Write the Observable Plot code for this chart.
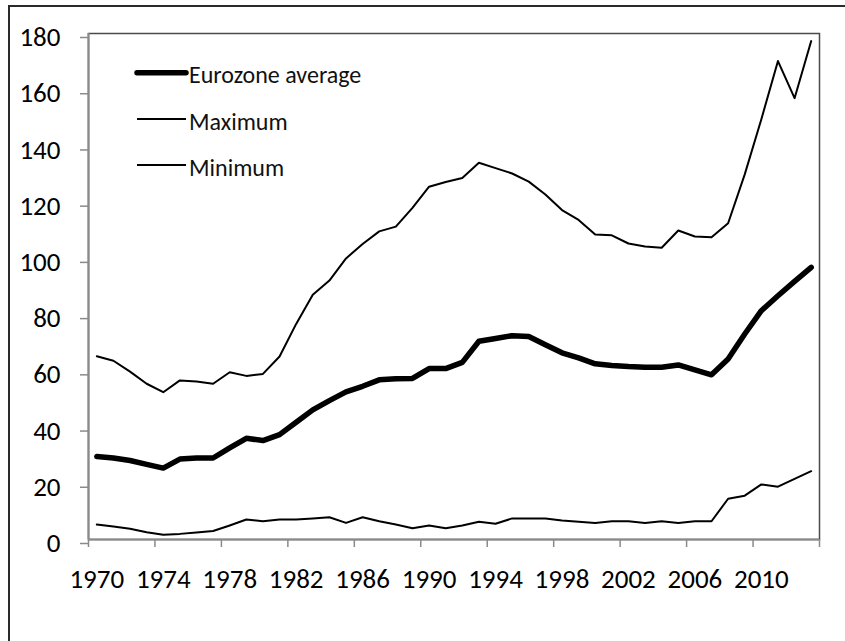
<!DOCTYPE html>
<html>
<head>
<meta charset="utf-8">
<script src="https://cdn.jsdelivr.net/npm/d3@7"></script>
<script src="https://cdn.jsdelivr.net/npm/@observablehq/plot@0.6"></script>
<style>
  html, body { margin: 0; padding: 0; width: 845px; height: 641px; overflow: hidden; background: #fff; }
  #wrap { position: relative; width: 845px; height: 641px; }
  #border { position: absolute; left: 8px; top: 5px; width: 1000px; height: 1000px; border: 2px solid #2a2a2a; }
  #chart { position: absolute; left: 0; top: 0; }
  #chart svg text { font-size: 27px !important; fill: #000; }
  #legend { position: absolute; left: 0; top: 0; }
</style>
</head>
<body>
<div id="wrap">
  <div id="border"></div>
  <div id="chart"></div>
  <svg id="legend" width="845" height="200"></svg>
</div>
<script>
const years = [1970,1971,1972,1973,1974,1975,1976,1977,1978,1979,
               1980,1981,1982,1983,1984,1985,1986,1987,1988,1989,
               1990,1991,1992,1993,1994,1995,1996,1997,1998,1999,
               2000,2001,2002,2003,2004,2005,2006,2007,2008,2009,
               2010,2011,2012,2013];
const eurozoneAverage = [29.5,29.0,28.1,26.7,25.4,28.6,29.0,29.0,32.6,36.0,
                         35.2,37.3,41.7,46.1,49.4,52.5,54.5,56.8,57.2,57.3,
                         60.8,60.8,63.0,70.5,71.5,72.5,72.2,69.3,66.4,64.6,
                         62.5,61.9,61.5,61.3,61.3,62.1,60.3,58.6,64.2,73.1,
                         81.4,86.7,91.8,96.8];
const maximum = [65.2,63.6,59.7,55.4,52.4,56.6,56.2,55.4,59.5,58.2,
                 58.9,65.1,76.7,87.1,92.1,100.0,105.1,109.6,111.3,118.0,
                 125.5,127.2,128.6,134.0,132.1,130.2,127.3,122.7,117.2,113.7,
                 108.5,108.2,105.3,104.2,103.8,109.9,107.8,107.5,112.5,129.9,
                 149.5,170.2,157.0,177.3];
const minimum = [5.3,4.6,3.8,2.6,1.7,2.0,2.5,3.0,5.0,7.1,
                 6.5,7.1,7.1,7.5,7.9,5.9,7.9,6.5,5.3,4.0,
                 5.0,4.0,5.0,6.3,5.6,7.5,7.5,7.5,6.8,6.3,
                 5.9,6.5,6.5,5.9,6.5,5.9,6.5,6.5,14.5,15.6,
                 19.6,18.8,21.6,24.3];
const seriesNames = ["Eurozone average", "Maximum", "Minimum"];
const yTicks = [0,20,40,60,80,100,120,140,160,180];
const xLabelTicks = [1970,1974,1978,1982,1986,1990,1994,1998,2002,2006,2010];
// category boundaries (tick marks between categories, every 4 categories)
const xTickMarks = [1969.5,1973.5,1977.5,1981.5,1985.5,1989.5,1993.5,1997.5,2001.5,2005.5,2009.5,2013.5];
const xDomain = [1969.5, 2013.5];
const yDomain = [0, 180];

const rows = [];
const seriesData = [eurozoneAverage, maximum, minimum];
seriesData.forEach((vals, s) => {
  vals.forEach((v, i) => rows.push({series: seriesNames[s], year: years[i], value: v}));
});
const sel = name => rows.filter(r => r.series === name);

const font = "Carlito, Lato, 'Open Sans', sans-serif";
const axisGray = "#8a8a8a";

const chart = Plot.plot({
  width: 845,
  height: 641,
  marginLeft: 88,
  marginRight: 26,
  marginTop: 33,
  marginBottom: 102,
  style: {fontFamily: font, fontSize: "27px", color: "#000", background: "transparent", overflow: "visible"},
  x: {domain: xDomain, label: null},
  y: {domain: yDomain, label: null},
  marks: [
    Plot.frame({stroke: "#4a4a4a", strokeWidth: 1.5}),
    Plot.ruleX([xDomain[0]], {stroke: axisGray, strokeWidth: 2}),
    Plot.ruleY([yDomain[0]], {stroke: axisGray, strokeWidth: 2}),
    Plot.axisY(yTicks, {label: null, tickSize: 8, tickPadding: 20, stroke: axisGray, strokeWidth: 1.5, fill: "#000", fontSize: 27, dy: 4, tickFormat: d => String(d)}),
    Plot.axisX(xTickMarks, {label: null, tickSize: 8, stroke: axisGray, strokeWidth: 1.5, tickFormat: () => ""}),
    Plot.axisX(xLabelTicks, {label: null, tickSize: 0, tickPadding: 29, fill: "#000", fontSize: 27, tickFormat: d => String(d)}),
    Plot.line(sel(seriesNames[1]), {x: "year", y: "value", stroke: "#000", strokeWidth: 2, strokeLinejoin: "round"}),
    Plot.line(sel(seriesNames[2]), {x: "year", y: "value", stroke: "#000", strokeWidth: 2, strokeLinejoin: "round"}),
    Plot.line(sel(seriesNames[0]), {x: "year", y: "value", stroke: "#000", strokeWidth: 5.5, strokeLinejoin: "round", strokeLinecap: "round"})
  ]
});
document.getElementById("chart").appendChild(chart);

// Legend (inside the plot area, upper left)
const legend = d3.select("#legend");
const legendWidths = [5.5, 2, 2];
const legendLineY = [72.7, 119, 165];
seriesNames.forEach((name, i) => {
  legend.append("line")
    .attr("x1", 137).attr("x2", 186)
    .attr("y1", legendLineY[i]).attr("y2", legendLineY[i])
    .attr("stroke", "#000").attr("stroke-width", legendWidths[i])
    .attr("stroke-linecap", i === 0 ? "round" : "butt");
  legend.append("text")
    .attr("x", 189).attr("y", legendLineY[i] + 10.5)
    .attr("font-family", font).attr("font-size", 24).attr("fill", "#111")
    .text(name);
});
</script>
</body>
</html>
